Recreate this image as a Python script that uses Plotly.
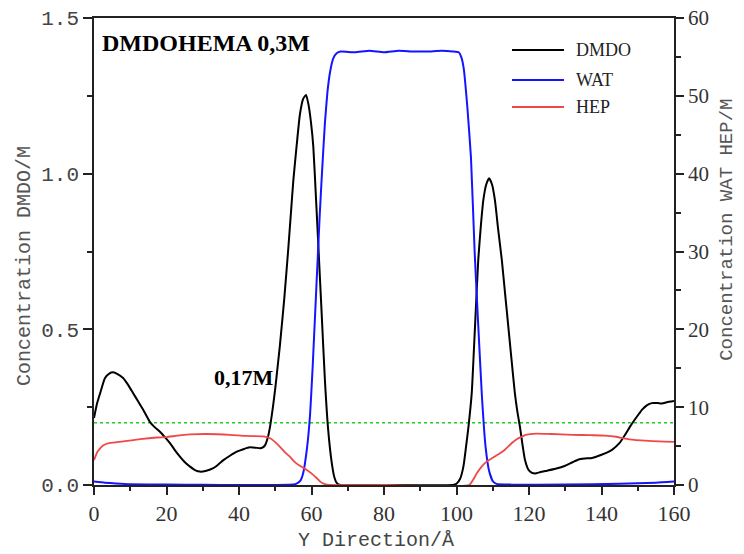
import plotly.graph_objects as go

# ---------------- data ----------------
dmdo_x = [0, 0.8, 1.7, 3, 4.2, 5.3, 6.5, 8.1, 9.5, 10.8, 12.2, 13.6, 15.4, 16.8, 18.2, 19.6, 21, 22.3,
          23.7, 25, 26.5, 28, 29.2, 31, 32.9, 34.3, 35.7, 37.5, 39.4, 41.2, 43, 44.5, 45.8, 46.6, 47.2,
          48, 48.6, 49.3, 50, 50.7, 51.3, 52.5, 53.6, 54.3, 55, 55.9, 56.8, 57.7, 58.5, 59.2, 59.9,
          60.5, 61.2, 61.9, 62.8, 63.7, 64.6, 65.6, 66.3, 67, 68, 80, 99, 100, 101, 101.9, 102.6,
          103.3, 104.2, 105.1, 106, 106.7, 107.4, 108.2, 109, 109.8, 110.6, 111.5, 112.5, 113.4,
          114.3, 115.2, 116.1, 116.8, 117.5, 118.2, 118.9, 119.8, 120.7, 121.7, 123, 125, 127.3, 130,
          132, 133.7, 135.5, 137.4, 140, 142.9, 145, 146.6, 148, 149.3, 150.3, 151.2, 152.5, 153.9,
          155.5, 156.7, 158, 160]
dmdo_y = [0.215, 0.26, 0.295, 0.343, 0.358, 0.362, 0.356, 0.343, 0.32, 0.295, 0.268, 0.241, 0.203,
          0.185, 0.171, 0.153, 0.134, 0.112, 0.091, 0.074, 0.059, 0.047, 0.043, 0.046, 0.054, 0.066,
          0.08, 0.094, 0.107, 0.115, 0.121, 0.12, 0.118, 0.121, 0.128, 0.155, 0.19, 0.245, 0.31,
          0.385, 0.45, 0.6, 0.76, 0.87, 0.98, 1.09, 1.19, 1.24, 1.253, 1.22, 1.16, 1.087, 0.93,
          0.766, 0.552, 0.337, 0.177, 0.07, 0.025, 0.006, 0, 0, 0, 0.004, 0.02, 0.059, 0.12, 0.187,
          0.295, 0.508, 0.723, 0.83, 0.915, 0.965, 0.985, 0.965, 0.915, 0.82, 0.723, 0.615, 0.508,
          0.40, 0.295, 0.235, 0.187, 0.13, 0.08, 0.05, 0.04, 0.037, 0.041, 0.046, 0.052, 0.062,
          0.073, 0.082, 0.085, 0.087, 0.097, 0.113, 0.135, 0.163, 0.19, 0.212, 0.228, 0.242, 0.256,
          0.263, 0.263, 0.262, 0.266, 0.27]

wat_x = [0, 3, 6, 10, 20, 30, 40, 50, 55, 56, 57, 57.7, 58.7, 59.6, 60.3, 61, 61.7, 62.3, 63, 63.7,
         64.4, 65.1, 66, 67, 68, 72, 76, 80, 84, 88, 92, 96, 99, 100.6, 101.3, 102, 103, 104, 105,
         106, 107, 108, 109, 110, 111, 115, 130, 145, 155, 160]
wat_y = [0.45, 0.3, 0.2, 0.1, 0.05, 0.02, 0.01, 0.01, 0.05, 0.2, 0.6, 1.5, 4.5, 9, 15, 22, 29, 35,
         41, 46.5, 50.5, 53, 54.8, 55.5, 55.7, 55.6, 55.8, 55.6, 55.8, 55.7, 55.7, 55.8, 55.7, 55.6,
         55, 53.5, 48.5, 42, 30, 20.5, 11.5, 5, 1.8, 0.5, 0.15, 0.05, 0.05, 0.15, 0.3, 0.45]

hep_x = [0, 1, 2.6, 4.4, 8, 12.7, 17.3, 20, 23, 26.5, 31, 37.5, 42, 46.7, 48.6, 50, 51.3, 52.7, 54.1,
         55.5, 57, 58.5, 60, 61.4, 62.5, 63.7, 65, 80, 103.5, 104.5, 105.6, 107, 108.3, 110, 112,
         113.5, 115.2, 116.7, 118, 119, 120.3, 122, 126, 132, 137, 141, 144, 146.6, 149, 152, 156, 160]
hep_y = [3.2, 4.3, 5.1, 5.4, 5.6, 5.9, 6.1, 6.15, 6.35, 6.5, 6.55, 6.45, 6.3, 6.25, 6.0, 5.5, 4.9,
         4.2, 3.6, 2.9, 2.4, 2.0, 1.5, 0.9, 0.4, 0.1, 0, 0, 0, 0.6, 1.5, 2.4, 3.0, 3.5, 4.07, 4.6,
         5.36, 5.9, 6.2, 6.45, 6.55, 6.6, 6.55, 6.45, 6.4, 6.35, 6.2, 5.95, 5.8, 5.7, 5.6, 5.55]

ref_x = [0, 160]
ref_level = [0.2, 0.2]

series_names = ["DMDO", "WAT", "HEP"]
series_colors = ["#000000", "#1414ff", "#f04848"]

x_ticks = [0, 20, 40, 60, 80, 100, 120, 140, 160]
left_ticks = [0, 0.5, 1.0, 1.5]
left_ticktext = ["0.0", "0.5", "1.0", "1.5"]
right_ticks = [0, 10, 20, 30, 40, 50, 60]

x_title = "Y Direction/Å"
left_title = "Concentration DMDO/M"
right_title = "Concentration WAT HEP/M"

MONO = "Liberation Mono"
SERIF = "Liberation Serif"
AX = "#222222"

fig = go.Figure()
fig.add_trace(go.Scatter(x=wat_x, y=wat_y, yaxis="y2", mode="lines", name=series_names[1],
                         line=dict(color=series_colors[1], width=2, shape="spline", smoothing=0.4)))
fig.add_trace(go.Scatter(x=hep_x, y=hep_y, yaxis="y2", mode="lines", name=series_names[2],
                         line=dict(color=series_colors[2], width=1.8, shape="spline", smoothing=0.5)))
fig.add_trace(go.Scatter(x=ref_x, y=ref_level, mode="lines", showlegend=False,
                         line=dict(color="#22cc22", width=1.5, dash="dot")))
fig.add_trace(go.Scatter(x=dmdo_x, y=dmdo_y, mode="lines", name=series_names[0],
                         line=dict(color=series_colors[0], width=2, shape="spline", smoothing=0.5)))

# page body has an 8px default margin, so the figure is sized/offset to compensate
fig.update_layout(
    width=736, height=546,
    margin=dict(l=86, r=70, t=10, b=69, autoexpand=False),
    paper_bgcolor="white", plot_bgcolor="white",
    showlegend=False,
    xaxis=dict(range=[0, 160], tickvals=x_ticks, ticks="outside", ticklen=8, tickwidth=1.5,
               tickcolor=AX, showline=True, linewidth=1.5, linecolor=AX, mirror=True,
               showgrid=False, zeroline=False, automargin=False, ticklabeloverflow="allow",
               minor=dict(ticks="outside", ticklen=4, tickwidth=1.5, tickcolor=AX, dtick=10, showgrid=False),
               tickfont=dict(family=SERIF, size=22, color="#333")),
    yaxis=dict(range=[0, 1.5], tickvals=left_ticks, ticktext=left_ticktext, ticks="outside",
               ticklen=9, tickwidth=1.5, tickcolor=AX, showline=True, linewidth=1.5, linecolor=AX,
               showgrid=False, zeroline=False, automargin=False, ticklabeloverflow="allow",
               minor=dict(ticks="outside", ticklen=5, tickwidth=1.5, tickcolor=AX, dtick=0.25, showgrid=False),
               tickfont=dict(family=MONO, size=21, color="#444")),
    yaxis2=dict(range=[0, 60], tickvals=right_ticks, overlaying="y", side="right", ticks="outside",
                ticklen=8, tickwidth=1.5, tickcolor=AX, showline=True, linewidth=1.5, linecolor=AX,
                showgrid=False, zeroline=False, automargin=False, ticklabeloverflow="allow",
                minor=dict(ticks="outside", ticklen=5, tickwidth=1.5, tickcolor=AX, dtick=5, showgrid=False),
                tickfont=dict(family=SERIF, size=21, color="#333")),
)

# axis titles
fig.add_annotation(xref="paper", yref="paper", x=0.486, y=-0.118, text=x_title, showarrow=False,
                   xanchor="center", yanchor="middle", font=dict(family=MONO, size=20, color="#444"))
fig.add_annotation(xref="paper", yref="paper", x=-0.119, y=0.469, text=left_title, showarrow=False,
                   textangle=-90, xanchor="center", yanchor="middle",
                   font=dict(family=MONO, size=20, color="#555"))
fig.add_annotation(xref="paper", yref="paper", x=1.091, y=0.546, text=right_title, showarrow=False,
                   textangle=-90, xanchor="center", yanchor="middle",
                   font=dict(family=MONO, size=19, color="#555"))

# manual legend (line sample + label)
legend_rows = [0.9315, 0.8672, 0.8094]
for name, color, yy in zip(series_names, series_colors, legend_rows):
    fig.add_shape(type="line", xref="paper", yref="paper", x0=0.7207, x1=0.8103, y0=yy, y1=yy,
                  line=dict(color=color, width=2))
    fig.add_annotation(xref="paper", yref="paper", x=0.8276, y=yy, text=name, showarrow=False,
                       xanchor="left", yanchor="middle", font=dict(family=SERIF, size=18, color="#222"))

fig.add_annotation(x=1.66, y=1.42, text="<b>DMDOHEMA 0,3M</b>", showarrow=False, xanchor="left",
                   yanchor="middle", font=dict(family=SERIF, size=24, color="black"))
fig.add_annotation(x=32.5, y=0.344, text="<b>0,17M</b>", showarrow=False, xanchor="left",
                   yanchor="middle", font=dict(family=SERIF, size=22, color="black"))

fig.write_html("out.html")
